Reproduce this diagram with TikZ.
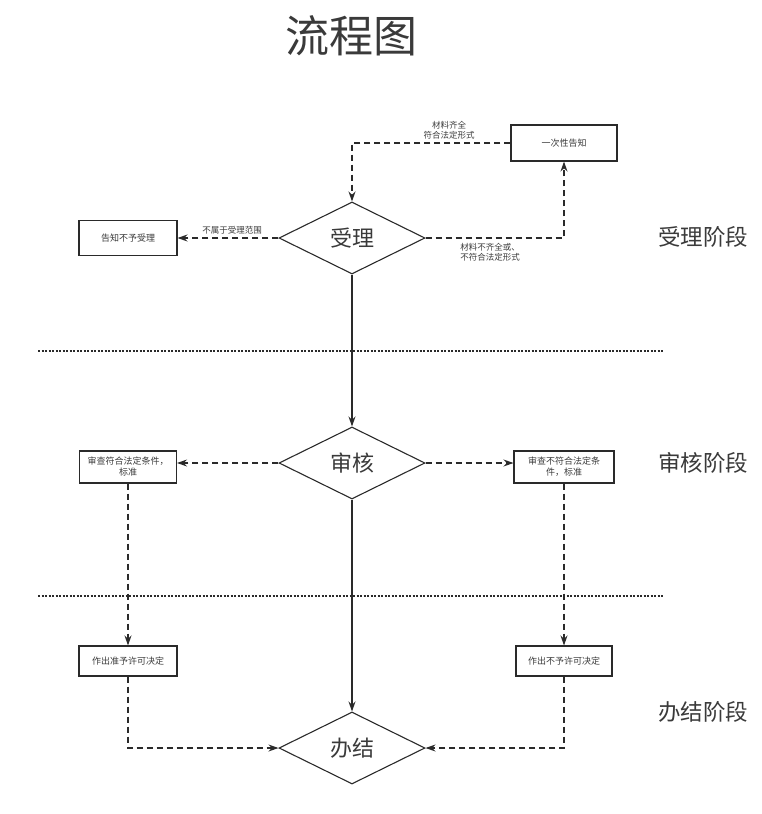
\documentclass[tikz,border=0pt]{standalone}
\usepackage{fontspec}
\setmainfont{Noto Sans CJK SC}
\usetikzlibrary{shapes.geometric,arrows.meta}
\definecolor{ink}{HTML}{2A2A2A}
\definecolor{txt}{HTML}{3A3A3A}
\begin{document}
\begin{tikzpicture}[x=1pt,y=-1pt,
  every node/.style={text=txt},
  dia/.style={draw=ink,line width=1.1pt,shape=diamond,shape aspect=2,minimum width=146pt,minimum height=72pt,inner sep=0pt,font=\fontsize{22}{24}\selectfont},
  box/.style={draw=ink,line width=1.1pt,shape=rectangle,inner sep=1pt,align=center,font=\fontsize{9}{11}\selectfont},
  lab/.style={align=center,inner sep=0pt,font=\fontsize{8.5}{10.5}\selectfont},
  stage/.style={inner sep=0pt,font=\fontsize{22.5}{24}\selectfont},
  solidarr/.style={draw=ink,line width=1.1pt,-{Stealth[length=10pt,width=7pt]}},
  dasharr/.style={draw=ink,line width=1.1pt,dash pattern=on 6pt off 4pt,-{Stealth[length=10pt,width=7pt]}},
  dotline/.style={draw=ink,line width=1.1pt,dash pattern=on 2pt off 1.5pt}]
\useasboundingbox (0,0) rectangle (762,814);

\node[inner sep=0pt,font=\fontsize{44}{48}\selectfont] (title) at (351,36) {流程图};

\node[stage] (st1) at (703,237) {受理阶段};
\node[stage] (st2) at (703,463) {审核阶段};
\node[stage] (st3) at (703,712) {办结阶段};

\coordinate (d1a) at (38,351);
\coordinate (d1b) at (663,351);
\coordinate (d2a) at (38,596);
\coordinate (d2b) at (663,596);
\draw[dotline] (d1a) -- (d1b);
\draw[dotline] (d2a) -- (d2b);

\node[dia] (sl) at (352,238) {受理};
\node[dia] (sh) at (352,463) {审核};
\node[dia] (bj) at (352,748) {办结};

\node[box,minimum width=106pt,minimum height=36pt] (yc) at (564,143) {一次性告知};
\node[box,minimum width=98pt,minimum height=35pt] (gz) at (128,238) {告知不予受理};
\node[box,minimum width=97pt,minimum height=32pt] (fh) at (128,467) {审查符合法定条件，\\标准};
\node[box,minimum width=100pt,minimum height=32pt] (bfh) at (564,467) {审查不符合法定条\\件，标准};
\node[box,minimum width=98pt,minimum height=30pt] (zy) at (128,661) {作出准予许可决定};
\node[box,minimum width=96pt,minimum height=30pt] (by) at (564,661) {作出不予许可决定};

\draw[dasharr] (yc.west) -| (sl.north);
\node[lab] (l1) at (449,130) {材料齐全\\符合法定形式};
\draw[dasharr] (sl.east) -| (yc.south);
\node[lab] (l2) at (490,252) {材料不齐全或、\\不符合法定形式};
\draw[dasharr] (sl.west) -- (gz.east);
\node[lab] (l3) at (232,230) {不属于受理范围};

\draw[solidarr] (sl.south) -- (sh.north);
\draw[dasharr] (sh.west) -- (sh.west -| fh.east);
\draw[dasharr] (sh.east) -- (sh.east -| bfh.west);
\draw[solidarr] (sh.south) -- (bj.north);

\draw[dasharr] (fh.south) -- (zy.north);
\draw[dasharr] (bfh.south) -- (by.north);
\draw[dasharr] (zy.south) |- (bj.west);
\draw[dasharr] (by.south) |- (bj.east);
\end{tikzpicture}
\end{document}
